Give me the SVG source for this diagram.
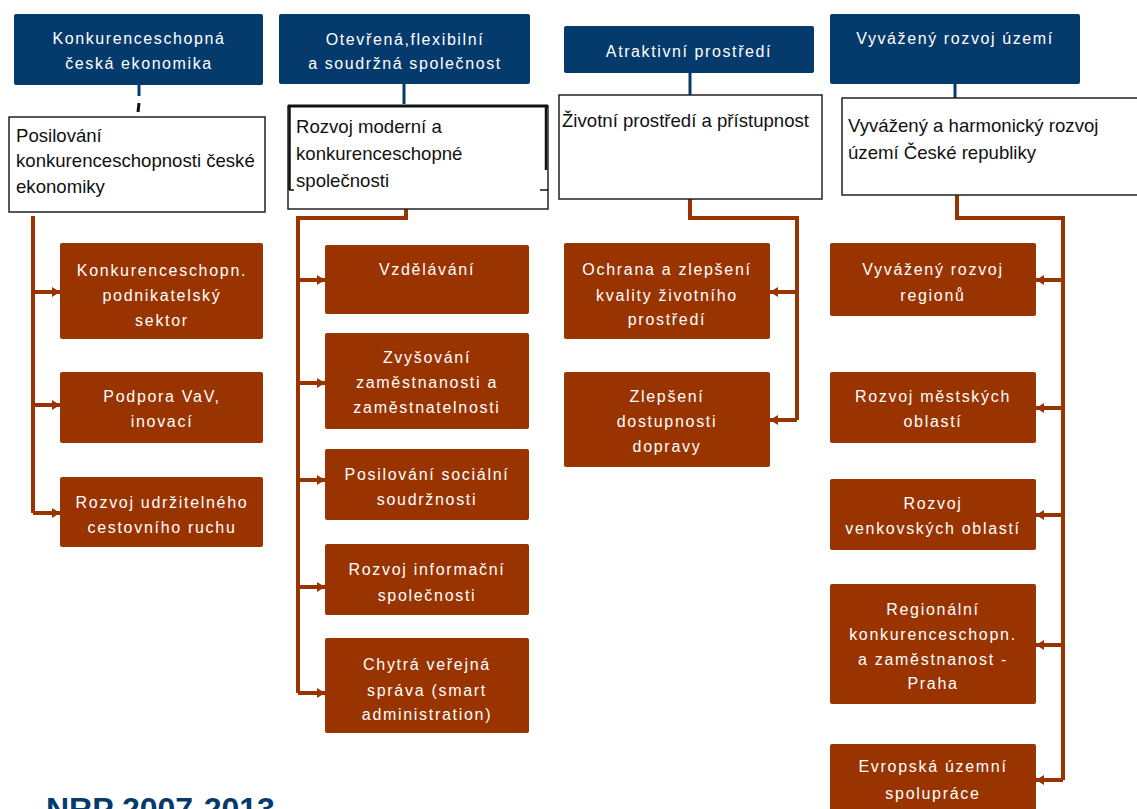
<svg xmlns="http://www.w3.org/2000/svg" width="1137" height="809" viewBox="0 0 1137 809">
<defs>
<style>
.hdr{fill:#053a6c;}
.hdrt{font-family:"Liberation Sans",Arial,sans-serif;font-size:16px;letter-spacing:1.6px;fill:#ffffff;text-anchor:middle;}
.wb{fill:#ffffff;stroke:#222222;stroke-width:1.5;}
.wbt{font-family:"Liberation Sans",Arial,sans-serif;font-size:18.6px;fill:#111111;}
.bb{fill:#993300;}
.bbt{font-family:"Liberation Sans",Arial,sans-serif;font-size:16px;letter-spacing:1.7px;fill:#ffffff;text-anchor:middle;}
.nv{stroke:#053a6c;stroke-width:3;fill:none;}
.br{stroke:#993300;stroke-width:4;fill:none;}
</style>
<marker id="ah" markerUnits="userSpaceOnUse" markerWidth="8" markerHeight="10" refX="8" refY="5" orient="auto">
<path d="M0,0 L8,5 L0,10 Z" fill="#993300"/>
</marker>
</defs>
<rect width="1137" height="809" fill="#ffffff"/>

<g id="connectors">
<line class="nv" x1="139" y1="85" x2="139" y2="96"/>
<line x1="139" y1="103" x2="138" y2="112" stroke="#111" stroke-width="3"/>
<line class="nv" x1="404" y1="84" x2="404" y2="104"/>
<line class="nv" x1="690" y1="73" x2="690" y2="95"/>
<line class="nv" x1="955" y1="84" x2="955" y2="98"/>

<polyline class="br" points="33,216 33,513"/>
<line class="br" x1="33" y1="292" x2="60" y2="292" marker-end="url(#ah)"/>
<line class="br" x1="33" y1="405" x2="60" y2="405" marker-end="url(#ah)"/>
<line class="br" x1="33" y1="513" x2="60" y2="513" marker-end="url(#ah)"/>

<polyline class="br" points="406,209 406,218 298,218 298,693"/>
<line class="br" x1="298" y1="280" x2="325" y2="280" marker-end="url(#ah)"/>
<line class="br" x1="298" y1="383" x2="325" y2="383" marker-end="url(#ah)"/>
<line class="br" x1="298" y1="480" x2="325" y2="480" marker-end="url(#ah)"/>
<line class="br" x1="298" y1="587" x2="325" y2="587" marker-end="url(#ah)"/>
<line class="br" x1="298" y1="693" x2="325" y2="693" marker-end="url(#ah)"/>

<polyline class="br" points="690,199 690,218 797,218 797,420"/>
<line class="br" x1="797" y1="292" x2="770" y2="292" marker-end="url(#ah)"/>
<line class="br" x1="797" y1="420" x2="770" y2="420" marker-end="url(#ah)"/>

<polyline class="br" points="957,195 957,218 1063,218 1063,780"/>
<line class="br" x1="1063" y1="280" x2="1036" y2="280" marker-end="url(#ah)"/>
<line class="br" x1="1063" y1="408" x2="1036" y2="408" marker-end="url(#ah)"/>
<line class="br" x1="1063" y1="515" x2="1036" y2="515" marker-end="url(#ah)"/>
<line class="br" x1="1063" y1="645" x2="1036" y2="645" marker-end="url(#ah)"/>
<line class="br" x1="1063" y1="780" x2="1036" y2="780" marker-end="url(#ah)"/>
</g>

<g id="h1"><rect class="hdr" x="14" y="14" width="249" height="71" rx="2"/>
<text class="hdrt" x="139" y="44">Konkurenceschopná</text>
<text class="hdrt" x="139" y="69">česká ekonomika</text></g>
<g id="h2"><rect class="hdr" x="279" y="14" width="251" height="70" rx="2"/>
<text class="hdrt" x="405" y="45">Otevřená,flexibilní</text>
<text class="hdrt" x="405" y="69">a soudržná společnost</text></g>
<g id="h3"><rect class="hdr" x="564" y="26" width="250" height="47" rx="2"/>
<text class="hdrt" x="689" y="57">Atraktivní prostředí</text></g>
<g id="h4"><rect class="hdr" x="830" y="14" width="250" height="70" rx="2"/>
<text class="hdrt" x="955" y="44">Vyvážený rozvoj území</text></g>

<g id="w1"><rect class="wb" x="9" y="117" width="256" height="95"/>
<text class="wbt" x="16" y="142">Posilování</text>
<text class="wbt" x="16" y="167">konkurenceschopnosti české</text>
<text class="wbt" x="16" y="193">ekonomiky</text></g>
<g id="w2"><rect class="wb" x="288" y="106" width="260" height="103"/>
<line x1="288" y1="106" x2="548" y2="106" stroke="#111" stroke-width="3"/>
<line x1="289.5" y1="106" x2="289.5" y2="190" stroke="#111" stroke-width="2.5"/>
<line x1="289" y1="190" x2="294" y2="190" stroke="#111" stroke-width="1.5"/>
<line x1="546" y1="106" x2="546" y2="170" stroke="#111" stroke-width="2.5"/>
<line x1="540" y1="190" x2="548" y2="190" stroke="#111" stroke-width="1.5"/>
<text class="wbt" x="296" y="133">Rozvoj moderní a</text>
<text class="wbt" x="296" y="160">konkurenceschopné</text>
<text class="wbt" x="296" y="187">společnosti</text></g>
<g id="w3"><rect class="wb" x="559" y="95" width="263" height="104"/>
<text class="wbt" x="562" y="127">Životní prostředí a přístupnost</text></g>
<g id="w4"><rect class="wb" x="842" y="98" width="310" height="97"/>
<text class="wbt" x="848" y="132">Vyvážený a harmonický rozvoj</text>
<text class="wbt" x="848" y="159">území České republiky</text></g>

<g id="b11"><rect class="bb" x="60" y="243" width="203" height="96" rx="2"/>
<text class="bbt" x="162" y="276">Konkurenceschopn.</text>
<text class="bbt" x="162" y="301">podnikatelský</text>
<text class="bbt" x="162" y="326">sektor</text></g>
<g id="b12"><rect class="bb" x="60" y="372" width="203" height="71" rx="2"/>
<text class="bbt" x="162" y="402">Podpora VaV,</text>
<text class="bbt" x="162" y="427">inovací</text></g>
<g id="b13"><rect class="bb" x="60" y="477" width="203" height="70" rx="2"/>
<text class="bbt" x="162" y="508">Rozvoj udržitelného</text>
<text class="bbt" x="162" y="533">cestovního ruchu</text></g>

<g id="b21"><rect class="bb" x="325" y="245" width="204" height="69" rx="2"/>
<text class="bbt" x="427" y="275">Vzdělávání</text></g>
<g id="b22"><rect class="bb" x="325" y="333" width="204" height="96" rx="2"/>
<text class="bbt" x="427" y="363">Zvyšování</text>
<text class="bbt" x="427" y="388">zaměstnanosti a</text>
<text class="bbt" x="427" y="413">zaměstnatelnosti</text></g>
<g id="b23"><rect class="bb" x="325" y="449" width="204" height="71" rx="2"/>
<text class="bbt" x="427" y="480">Posilování sociální</text>
<text class="bbt" x="427" y="505">soudržnosti</text></g>
<g id="b24"><rect class="bb" x="325" y="544" width="204" height="71" rx="2"/>
<text class="bbt" x="427" y="575">Rozvoj informační</text>
<text class="bbt" x="427" y="601">společnosti</text></g>
<g id="b25"><rect class="bb" x="325" y="638" width="204" height="95" rx="2"/>
<text class="bbt" x="427" y="670">Chytrá veřejná</text>
<text class="bbt" x="427" y="696">správa (smart</text>
<text class="bbt" x="427" y="720">administration)</text></g>

<g id="b31"><rect class="bb" x="564" y="243" width="206" height="96" rx="2"/>
<text class="bbt" x="667" y="275">Ochrana a zlepšení</text>
<text class="bbt" x="667" y="301">kvality životního</text>
<text class="bbt" x="667" y="325">prostředí</text></g>
<g id="b32"><rect class="bb" x="564" y="372" width="206" height="95" rx="2"/>
<text class="bbt" x="667" y="402">Zlepšení</text>
<text class="bbt" x="667" y="427">dostupnosti</text>
<text class="bbt" x="667" y="452">dopravy</text></g>

<g id="b41"><rect class="bb" x="830" y="243" width="206" height="73" rx="2"/>
<text class="bbt" x="933" y="275">Vyvážený rozvoj</text>
<text class="bbt" x="933" y="301">regionů</text></g>
<g id="b42"><rect class="bb" x="830" y="372" width="206" height="71" rx="2"/>
<text class="bbt" x="933" y="402">Rozvoj městských</text>
<text class="bbt" x="933" y="427">oblastí</text></g>
<g id="b43"><rect class="bb" x="830" y="479" width="206" height="71" rx="2"/>
<text class="bbt" x="933" y="509">Rozvoj</text>
<text class="bbt" x="933" y="534">venkovských oblastí</text></g>
<g id="b44"><rect class="bb" x="830" y="584" width="206" height="120" rx="2"/>
<text class="bbt" x="933" y="615">Regionální</text>
<text class="bbt" x="933" y="640">konkurenceschopn.</text>
<text class="bbt" x="933" y="665">a zaměstnanost -</text>
<text class="bbt" x="933" y="689">Praha</text></g>
<g id="b45"><rect class="bb" x="830" y="744" width="206" height="80" rx="2"/>
<text class="bbt" x="933" y="772">Evropská územní</text>
<text class="bbt" x="933" y="799">spolupráce</text></g>

<g id="title"><text x="46" y="820" font-family="Liberation Sans,Arial,sans-serif" font-size="32" font-weight="bold" fill="#053a6c">NRP 2007-2013</text></g>
</svg>
